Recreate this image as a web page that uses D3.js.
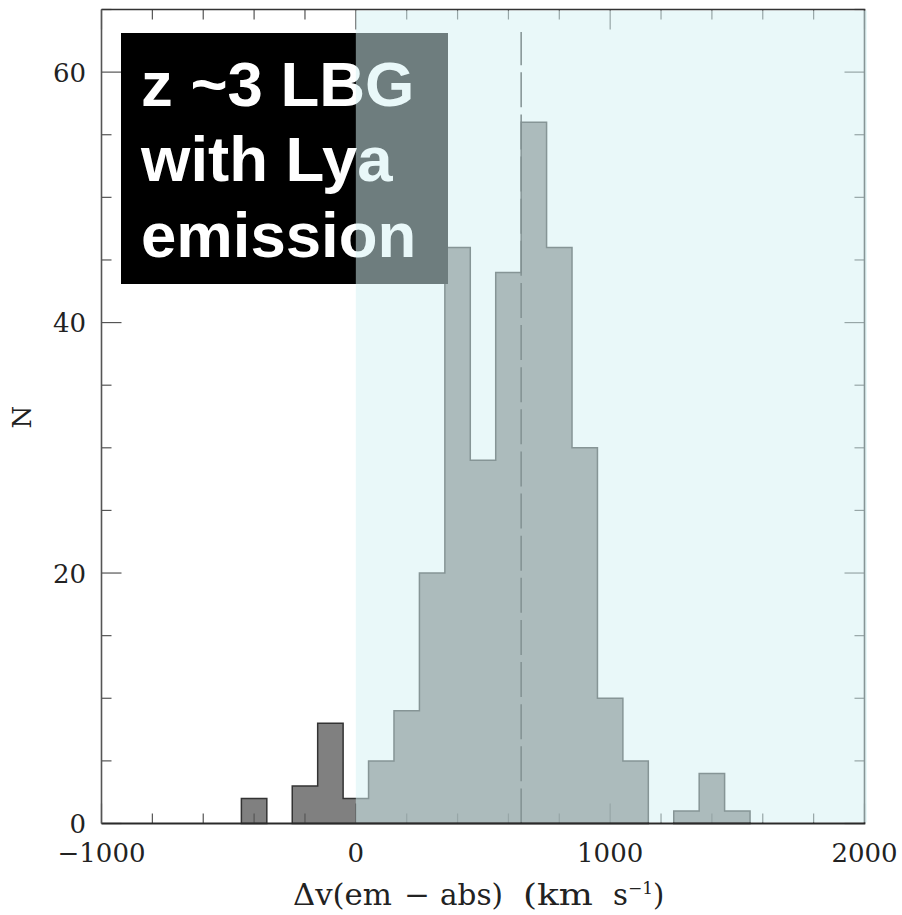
<!DOCTYPE html>
<html><head><meta charset="utf-8">
<script src="https://cdn.jsdelivr.net/npm/d3@7"></script>
<style>html,body{margin:0;padding:0;background:#fff;} svg{display:block}</style>
</head><body>
<svg id="c" width="902" height="915"></svg>
<script>
// ---- data ----
const binLower  = [-450, -250, -150, -50, 50, 150, 250, 350, 450, 550, 650, 750, 850, 950, 1050, 1250, 1350, 1450];
const binCounts = [   2,    3,    8,   2,  5,   9,  20,  46,  29,  44,  56,  46,  30,  10,    5,    1,    4,    1];
const binWidth = 100;
const medianDv = 650;
const xTickLabels = [-1000, 0, 1000, 2000];
const yTickLabels = [0, 20, 40, 60];
const xMinorStep = 200, yMinorStep = 5;
const titleLines = ["z ~3 LBG", "with Lya", "emission"];

// ---- layout ----
const svg = d3.select("#c");
const L = 101.5, R = 864.5, T = 9.5, B = 823.5;
const x = d3.scaleLinear().domain([-1000, 2000]).range([L, R]);
const y = d3.scaleLinear().domain([0, 65]).range([B, T]);

// build step outlines for contiguous runs of bins
const runs = [];
binLower.forEach((lo, i) => {
  const last = runs[runs.length - 1];
  if (last && Math.abs(last.end - lo) < 1e-6) { last.pts.push([lo, binCounts[i]], [lo + binWidth, binCounts[i]]); last.end = lo + binWidth; }
  else runs.push({ end: lo + binWidth, pts: [[lo, 0], [lo, binCounts[i]], [lo + binWidth, binCounts[i]]] });
});
runs.forEach(r => r.pts.push([r.end, 0]));
const line = d3.line().x(d => x(d[0])).y(d => y(d[1]));
svg.append("g").selectAll("path").data(runs).join("path")
  .attr("d", r => line(r.pts) + "Z")
  .attr("fill", "#808080")
  .attr("stroke", "#333")
  .attr("stroke-width", 1.5)
  .attr("stroke-linejoin", "miter");

// dashed median line (drawn from bottom upward)
svg.append("line")
  .attr("x1", x(medianDv)).attr("x2", x(medianDv))
  .attr("y1", y(0)).attr("y2", y(63.2))
  .attr("stroke", "#2a2a2a").attr("stroke-width", 1.5)
  .attr("stroke-dasharray", "35,7.13");

// ticks
const xt = d3.range(-1000, 2001, xMinorStep);
const yt = d3.range(0, 66, yMinorStep);
const tg = svg.append("g").attr("stroke", "#555").attr("stroke-width", 1.2);
xt.forEach(v => {
  const len = (v % 1000 === 0) ? 20 : 10;
  tg.append("line").attr("x1", x(v)).attr("x2", x(v)).attr("y1", B).attr("y2", B - len);
  tg.append("line").attr("x1", x(v)).attr("x2", x(v)).attr("y1", T).attr("y2", T + len);
});
yt.forEach(v => {
  const len = (v % 20 === 0) ? 20 : 10;
  tg.append("line").attr("y1", y(v)).attr("y2", y(v)).attr("x1", L).attr("x2", L + len);
  tg.append("line").attr("y1", y(v)).attr("y2", y(v)).attr("x1", R).attr("x2", R - len);
});
// right frame (under overlay)
svg.append("line").attr("x1", R).attr("x2", R).attr("y1", T).attr("y2", B)
  .attr("stroke", "#333").attr("stroke-width", 1.6);

// text box
svg.append("rect").attr("x", 121).attr("y", 33).attr("width", 327).attr("height", 251).attr("fill", "#000");
svg.append("g").selectAll("text").data(titleLines).join("text")
  .attr("x", 141).attr("y", (d, i) => 105.7 + i * 75.5)
  .attr("fill", "#fff")
  .attr("font-family", "'Liberation Sans', Arial, sans-serif")
  .attr("font-weight", "bold").attr("font-size", 63.5)
  .text(d => d);

// translucent cyan overlay for dv > 0
svg.append("rect")
  .attr("x", x(0)).attr("y", T + 1)
  .attr("width", x(2000) - x(0) + 2.5).attr("height", B - T - 2)
  .attr("fill", "rgb(212,241,243)").attr("fill-opacity", 0.518);

// frame lines on top
svg.append("line").attr("x1", L).attr("x2", R + 0.8).attr("y1", T).attr("y2", T).attr("stroke", "#333").attr("stroke-width", 1.6);
svg.append("line").attr("x1", L).attr("x2", R + 0.8).attr("y1", B).attr("y2", B).attr("stroke", "#2a2a2a").attr("stroke-width", 2.2);
svg.append("line").attr("x1", L).attr("x2", L).attr("y1", T).attr("y2", B).attr("stroke", "#555").attr("stroke-width", 1.6);

// tick labels
const serif = "'DejaVu Serif', serif";
svg.append("g").selectAll("text").data(xTickLabels).join("text")
  .attr("x", d => x(d)).attr("y", 862)
  .attr("text-anchor", "middle").attr("font-family", serif).attr("font-size", 26).attr("fill", "#222")
  .text(d => d < 0 ? "\u2212" + Math.abs(d) : String(d));
svg.append("g").selectAll("text").data(yTickLabels).join("text")
  .attr("x", 86).attr("y", d => y(d) + 9.5)
  .attr("text-anchor", "end").attr("font-family", serif).attr("font-size", 26).attr("fill", "#222")
  .text(d => String(d));

// axis titles
svg.append("text").attr("transform", "translate(31,417) rotate(-90)")
  .attr("text-anchor", "middle").attr("font-family", serif).attr("font-size", 26).attr("fill", "#222")
  .text("N");
const xl = svg.append("g").attr("font-family", serif).attr("font-size", 29).attr("fill", "#222");
xl.append("text").attr("x", 293).attr("y", 905).attr("textLength", 99).attr("lengthAdjust", "spacingAndGlyphs").text("\u0394v(em");
xl.append("text").attr("x", 404).attr("y", 905).attr("textLength", 26).attr("lengthAdjust", "spacingAndGlyphs").text("\u2212");
xl.append("text").attr("x", 440).attr("y", 905).attr("textLength", 63).attr("lengthAdjust", "spacingAndGlyphs").text("abs)");
xl.append("text").attr("x", 523).attr("y", 905).attr("textLength", 70).attr("lengthAdjust", "spacingAndGlyphs").text("(km");
const st = xl.append("text").attr("x", 613).attr("y", 905);
st.append("tspan").text("s");
st.append("tspan").attr("dy", -11).attr("font-size", 17).text("\u22121");
st.append("tspan").attr("dy", 11).text(")");
</script>
</body></html>
